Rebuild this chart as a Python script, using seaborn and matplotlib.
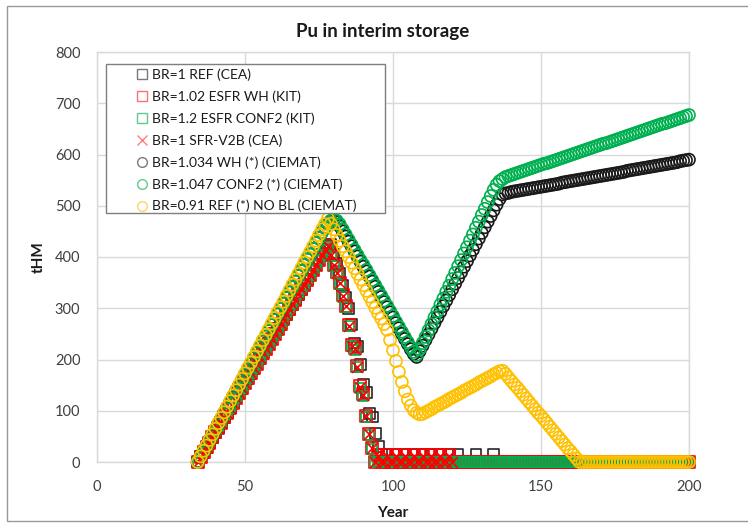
import numpy as np
import matplotlib
matplotlib.use("Agg")
import matplotlib.pyplot as plt
from matplotlib.lines import Line2D
from matplotlib.patches import Rectangle
import seaborn as sns

# years of the scenario (one point per year)
years = list(range(34, 201))

# BR=1 REF (CEA) - black squares
br1_ref_cea = [
    0, 10, 19, 29, 38, 48, 58, 67, 77, 87,
    96, 106, 115, 125, 135, 144, 154, 163, 173, 183,
    192, 202, 212, 221, 231, 240, 250, 260, 269, 279,
    288, 298, 308, 317, 327, 337, 346, 356, 365, 375,
    385, 394, 404, 413, 420, 425, 405, 388, 368, 345,
    322, 300, 268, 232, 226, 190, 152, 136, 95, 88,
    56, 30, 15, 0, 15, 0, 0, 15, 0, 0,
    15, 0, 0, 15, 0, 0, 15, 0, 0, 15,
    0, 0, 15, 0, 0, 15, 0, 0, 14, 0,
    0, 0, 0, 0, 14, 0, 0, 0, 0, 0,
    14] + [0] * 66

# BR=1.02 ESFR WH (KIT) - red squares
br102_esfr_wh = [
    0, 10, 19, 29, 38, 48, 58, 67, 77, 87,
    96, 106, 115, 125, 135, 144, 154, 163, 173, 183,
    192, 202, 212, 221, 231, 240, 250, 260, 269, 279,
    288, 298, 308, 317, 327, 337, 346, 356, 365, 375,
    385, 394, 404, 413, 421, 405, 385, 370, 350, 325,
    305, 268, 228, 222, 188, 148, 132, 90, 55, 28,
    0, 14, 0, 0, 14, 0, 0, 14, 0, 0,
    14, 0, 0, 14, 0, 0, 14, 0, 0, 14,
    0, 0, 14, 0, 0, 14, 0, 0, 0, 0] + [0] * 77

# BR=1.2 ESFR CONF2 (KIT) - green squares
br12_esfr_conf2 = [
    0, 10, 19, 29, 38, 48, 58, 67, 77, 87,
    96, 106, 115, 125, 135, 144, 154, 163, 173, 183,
    192, 202, 212, 221, 231, 240, 250, 260, 269, 279,
    288, 298, 308, 317, 327, 337, 346, 356, 365, 375,
    385, 394, 404, 413, 420, 402, 383, 368, 348, 322,
    302, 265, 226, 218, 185, 145, 128, 88, 52, 25] + [0] * 107

# BR=1 SFR-V2B (CEA) - red crosses (years 34..120)
br1_sfr_v2b = [
    0, 10, 19, 29, 38, 48, 58, 67, 77, 87,
    96, 106, 115, 125, 135, 144, 154, 163, 173, 183,
    192, 202, 212, 221, 231, 240, 250, 260, 269, 279,
    288, 298, 308, 317, 327, 337, 346, 356, 365, 375,
    385, 394, 404, 413, 421, 404, 384, 369, 349, 324,
    304, 266, 227, 220, 186, 146, 130, 89, 54, 27,
    0, 12, 0, 0, 12, 0, 0, 12, 0, 0,
    12, 0, 0, 12, 0, 0, 12, 0, 0, 12,
    0, 0, 12, 0, 0, 12, 0]

# BR=1.034 WH (*) (CIEMAT) - black circles
br1034_wh = [
    0, 11, 21, 32, 43, 53, 64, 75, 85, 96,
    107, 117, 128, 139, 149, 160, 171, 181, 192, 203,
    213, 224, 235, 245, 256, 267, 277, 288, 299, 309,
    320, 331, 341, 352, 363, 373, 384, 395, 405, 416,
    427, 437, 448, 458, 465, 470, 471, 468, 460, 450,
    440, 430, 421, 411, 401, 391, 381, 372, 362, 352,
    342, 332, 322, 312, 302, 292, 282, 271, 261, 250,
    240, 230, 220, 211, 205, 216, 227, 238, 249, 260,
    271, 282, 293, 304, 315, 326, 337, 348, 359, 370,
    381, 392, 403, 414, 425, 436, 447, 458, 469, 480,
    491, 502, 513, 522, 524, 525, 527, 528, 529, 530,
    531, 532, 533, 534, 535, 536, 537, 538, 539, 540,
    541, 542, 543, 545, 546, 547, 548, 549, 550, 551,
    552, 553, 554, 555, 556, 557, 558, 559, 560, 561,
    562, 563, 564, 565, 566, 568, 569, 570, 571, 572,
    573, 574, 575, 576, 577, 578, 579, 580, 581, 582,
    583, 584, 585, 587, 588, 589, 590]

# BR=1.047 CONF2 (*) (CIEMAT) - green circles
br1047_conf2 = [
    0, 11, 21, 32, 43, 53, 64, 75, 85, 96,
    107, 117, 128, 139, 149, 160, 171, 181, 192, 203,
    213, 224, 235, 245, 256, 267, 277, 288, 299, 309,
    320, 331, 341, 352, 363, 373, 384, 395, 405, 416,
    427, 437, 448, 458, 466, 471, 473, 471, 464, 454,
    444, 434, 424, 414, 404, 394, 385, 375, 365, 355,
    345, 335, 325, 315, 305, 295, 285, 274, 264, 254,
    244, 234, 224, 215, 209, 220, 232, 244, 257, 269,
    282, 294, 307, 319, 332, 344, 357, 369, 382, 394,
    407, 419, 432, 444, 457, 469, 482, 494, 507, 519,
    531, 541, 548, 552, 556, 558, 560, 562, 564, 566,
    568, 570, 572, 574, 576, 578, 580, 582, 583, 585,
    587, 589, 591, 593, 595, 597, 599, 601, 603, 605,
    607, 609, 611, 613, 615, 617, 619, 621, 622, 624,
    626, 628, 630, 632, 634, 636, 638, 640, 642, 644,
    646, 648, 650, 652, 654, 656, 658, 660, 661, 663,
    665, 667, 669, 671, 673, 675, 677]

# BR=0.91 REF (*) NO BL (CIEMAT) - gold circles
br091_ref_nobl = [
    0, 11, 22, 32, 43, 54, 65, 76, 86, 97,
    108, 119, 130, 140, 151, 162, 173, 184, 194, 205,
    216, 227, 238, 248, 259, 270, 281, 292, 302, 313,
    324, 335, 346, 356, 367, 378, 389, 400, 410, 421,
    432, 443, 454, 464, 475, 465, 454, 443, 432, 421,
    411, 400, 389, 378, 367, 356, 345, 334, 323, 312,
    301, 290, 280, 269, 258, 238, 218, 197, 176, 156,
    138, 122, 110, 101, 96, 93, 94, 97, 100, 103,
    107, 110, 113, 116, 119, 123, 126, 129, 132, 135,
    139, 142, 145, 148, 151, 155, 158, 161, 164, 167,
    171, 174, 177, 178, 172, 165, 158, 151, 145, 138,
    131, 124, 117, 110, 103, 96, 90, 83, 76, 69,
    62, 55, 48, 41, 34, 27, 21, 14, 7, 0] + [0] * 37

labels = [
    "BR=1 REF (CEA)",
    "BR=1.02 ESFR WH (KIT)",
    "BR=1.2 ESFR CONF2 (KIT)",
    "BR=1 SFR-V2B (CEA)",
    "BR=1.034 WH (*) (CIEMAT)",
    "BR=1.047 CONF2 (*) (CIEMAT)",
    "BR=0.91 REF (*) NO BL (CIEMAT)",
]
series = [br1_ref_cea, br102_esfr_wh, br12_esfr_conf2, br1_sfr_v2b,
          br1034_wh, br1047_conf2, br091_ref_nobl]
colors = ["#262626", "#ff0000", "#00b050", "#ff0000", "#1a1a1a", "#00b050", "#ffc000"]
legend_colors = ["#7a7a7a", "#ff7070", "#60c890", "#ff8080", "#7a7a7a", "#60c890", "#ffd466"]
markers = ["s", "s", "s", "x", "o", "o", "o"]
sizes = [60, 75, 52, 60, 75, 75, 75]

sns.set_style("white")
plt.rcParams["font.family"] = ["Lato", "DejaVu Sans"]

W, H = 748, 527
fig = plt.figure(figsize=(W / 100, H / 100), dpi=100)
ax = fig.add_axes([97 / W, 65 / H, 592 / W, 410 / H])

for i, (vals, col, mk, sz) in enumerate(zip(series, colors, markers, sizes)):
    xs = years[:len(vals)]
    if mk == "x":
        sns.scatterplot(x=xs, y=vals, marker="x", s=sz, color=col, linewidth=1.2,
                        ax=ax, legend=False, zorder=3 + i, clip_on=False)
    else:
        sns.scatterplot(x=xs, y=vals, marker=mk, s=sz, facecolor="none",
                        edgecolor=col, linewidth=1.2, ax=ax, legend=False,
                        zorder=3 + i, clip_on=False)

ax.set_xlim(0, 200)
ax.set_ylim(0, 800)
ax.set_xticks([0, 50, 100, 150, 200])
ax.set_yticks(range(0, 801, 100))
ax.grid(True, color="#d9d9d9", linewidth=1)
ax.set_axisbelow(True)
for sp in ax.spines.values():
    sp.set_color("#d9d9d9")
    sp.set_linewidth(1)
ax.tick_params(length=0, labelsize=10.5, labelcolor="#404040")
ax.tick_params(axis="y", pad=12)
ax.tick_params(axis="x", pad=13)
ax.set_xlabel("")
ax.set_ylabel("")

fig.text(383 / W, 1 - 31 / H, "Pu in interim storage", ha="center", va="center",
         fontsize=13.5, fontweight="bold", color="#1a1a1a")
fig.text(393 / W, 1 - 513 / H, "Year", ha="center", va="center",
         fontsize=11, fontweight="bold", color="#1a1a1a")
fig.text(39 / W, 1 - 257 / H, "tHM", ha="center", va="center", rotation=90,
         fontsize=11, fontweight="bold", color="#1a1a1a")

# legend frame and entries
fig.patches.append(Rectangle((106 / W, 1 - 213 / H), 279 / W, 149 / H,
                             transform=fig.transFigure, facecolor="white",
                             edgecolor="#7f7f7f", linewidth=1, zorder=20))
handles = []
for col, mk in zip(legend_colors, markers):
    if mk == "x":
        h = Line2D([], [], linestyle="none", marker="x", markersize=7,
                   color=col, markeredgewidth=1.0)
    else:
        h = Line2D([], [], linestyle="none", marker=mk, markersize=7,
                   markerfacecolor="none", markeredgecolor=col,
                   markeredgewidth=1.0)
    handles.append(h)
leg = fig.legend(handles, labels, loc="upper left",
                 bbox_to_anchor=(135 / W, 1 - 68 / H), frameon=False,
                 fontsize=10, handlelength=1.0, handletextpad=0.25,
                 borderpad=0, labelspacing=0.68, borderaxespad=0)
leg.set_zorder(30)
for t in leg.get_texts():
    t.set_color("#1a1a1a")

# outer chart border
fig.patches.append(Rectangle((7 / W, 1 - 521 / H), 760 / W, 515 / H,
                             transform=fig.transFigure, facecolor="none",
                             edgecolor="#999999", linewidth=1, zorder=0))

fig.savefig("out.png", dpi=100)
